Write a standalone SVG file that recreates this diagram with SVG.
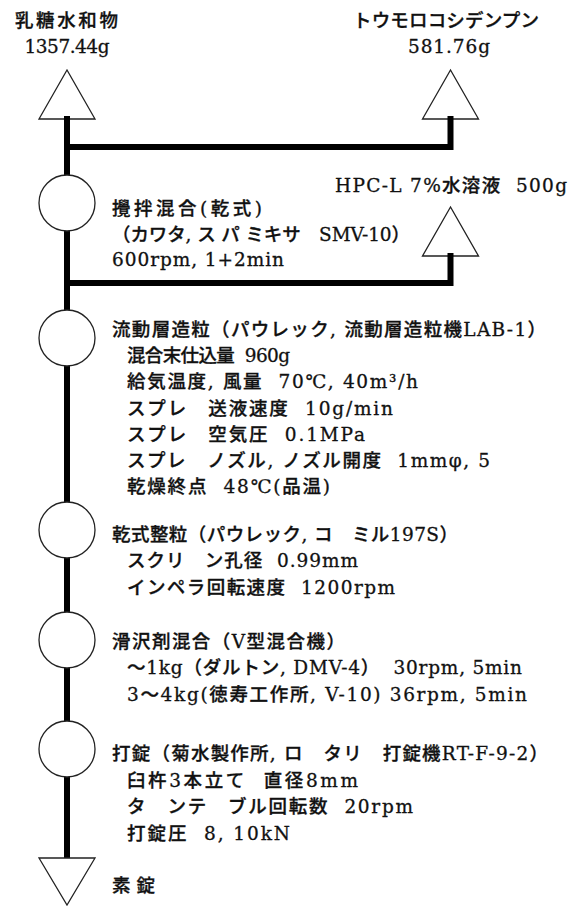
<svg xmlns="http://www.w3.org/2000/svg" width="578" height="906" viewBox="0 0 578 906">
<style>
.t{font-family:"DejaVu Serif","Noto Sans CJK JP",serif;font-size:18.5px;font-weight:500;fill:#111;stroke:#111;stroke-width:0.3;white-space:pre}
.m{text-anchor:middle}
.shape{fill:#fff;stroke:#222;stroke-width:1.3}
.ln{fill:none;stroke:#000;stroke-width:6;stroke-linecap:butt;stroke-linejoin:miter}
</style>
<rect width="578" height="906" fill="#fff"/>
<g id="src-lactose">
<polygon class="shape" points="67,70 39,119 95,119"/>
<text class="t m" x="66.5" y="27" textLength="103">乳糖水和物</text>
<text class="t m" x="67" y="53" textLength="85">1357.44g</text>
</g>
<g id="src-starch">
<polygon class="shape" points="450.5,70 422.5,119 478.5,119"/>
<text class="t m" x="446" y="27" textLength="186">トウモロコシデンプン</text>
<text class="t m" x="449" y="53" textLength="82">581.76g</text>
</g>
<g id="src-hpc">
<polygon class="shape" points="450.5,207 422.5,256 478.5,256"/>
<text class="t" x="335" y="192" textLength="232">HPC-L 7%水溶液  500g</text>
</g>
<g id="connectors">
<path class="ln" d="M67,116 V862"/>
<path class="ln" d="M450.5,116 V147 H64"/>
<path class="ln" d="M450.5,253 V283 H64"/>
</g>
<g id="step-mix">
<circle class="shape" cx="67" cy="203" r="28"/>
<text class="t" x="112" y="215" textLength="150">攪拌混合(乾式)</text>
<text class="t" x="112" y="241" textLength="298">（カワタ, ス パ ミキサ　SMV-10）</text>
<text class="t" x="112" y="266" textLength="172">600rpm, 1+2min</text>
</g>
<g id="step-granulate">
<circle class="shape" cx="67" cy="338" r="28"/>
<text class="t" x="112" y="336" textLength="434">流動層造粒（パウレック, 流動層造粒機LAB-1）</text>
<text class="t" x="127" y="362" textLength="163">混合末仕込量  960g</text>
<text class="t" x="127" y="388" textLength="291">給気温度, 風量  70℃, 40m³/h</text>
<text class="t" x="127" y="415" textLength="266">スプレ　送液速度  10g/min</text>
<text class="t" x="127" y="441" textLength="238">スプレ　空気圧  0.1MPa</text>
<text class="t" x="127" y="467" textLength="363">スプレ　ノズル, ノズル開度  1mmφ, 5</text>
<text class="t" x="127" y="493" textLength="203">乾燥終点  48℃(品温)</text>
</g>
<g id="step-sizing">
<circle class="shape" cx="67" cy="530" r="28"/>
<text class="t" x="112" y="541" textLength="346">乾式整粒（パウレック, コ　ミル197S）</text>
<text class="t" x="127" y="567" textLength="231">スクリ　ン孔径  0.99mm</text>
<text class="t" x="127" y="594" textLength="268">インペラ回転速度  1200rpm</text>
</g>
<g id="step-lubricate">
<circle class="shape" cx="67" cy="640" r="28"/>
<text class="t" x="112" y="648" textLength="233">滑沢剤混合（V型混合機）</text>
<text class="t" x="127" y="674" textLength="395">～1kg（ダルトン, DMV-4）  30rpm, 5min</text>
<text class="t" x="127" y="701" textLength="400">3～4kg(徳寿工作所, V-10) 36rpm, 5min</text>
</g>
<g id="step-tablet">
<circle class="shape" cx="67" cy="749" r="28"/>
<text class="t" x="112" y="760" textLength="436">打錠（菊水製作所, ロ　タリ　打錠機RT-F-9-2）</text>
<text class="t" x="127" y="787" textLength="231">臼杵3本立て  直径8mm</text>
<text class="t" x="127" y="813" textLength="286">タ　ンテ　ブル回転数  20rpm</text>
<text class="t" x="127" y="840" textLength="163">打錠圧  8, 10kN</text>
</g>
<g id="product">
<polygon class="shape" points="39,858 95,858 67,905"/>
<text class="t" x="112" y="892" textLength="43">素錠</text>
</g>
</svg>
